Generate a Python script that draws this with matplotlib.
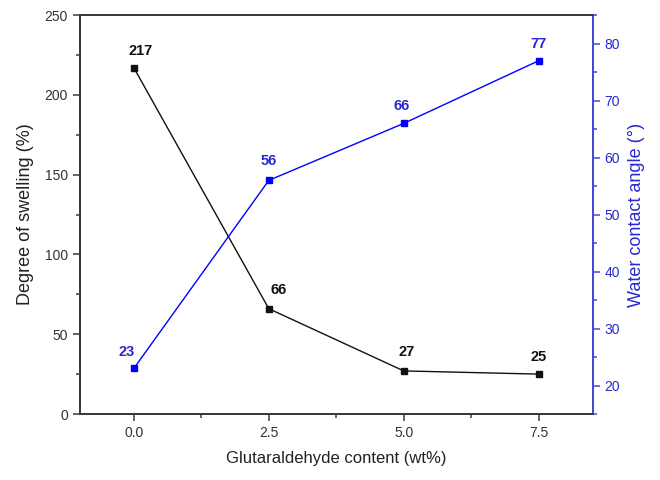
import matplotlib
matplotlib.use("Agg")
import matplotlib.pyplot as plt
from matplotlib.ticker import MultipleLocator

plt.rcParams['font.family'] = ['Liberation Sans', 'DejaVu Sans']

content = [0.0, 2.5, 5.0, 7.5]
swelling = [217, 66, 27, 25]
contact_angle = [23, 56, 66, 77]
x_ticks = [0.0, 2.5, 5.0, 7.5]
x_tick_labels = ["0.0", "2.5", "5.0", "7.5"]

# label offsets in pixels (dx, dy)
sw_offsets = [(7, 17), (10, 19), (3, 19), (0, 17)]
ca_offsets = [(-7, 16), (0, 19), (-2, 17), (0, 17)]

black = '#111111'
blue_line = '#0000ff'
blue_axis = '#4848e0'
blue_text = '#2828d0'
gray = '#3a3a3a'

fig = plt.figure(figsize=(6.6, 4.8), dpi=100)
ax = fig.add_axes([0.121, 0.1375, 0.777, 0.831])
ax2 = ax.twinx()

ax.plot(content, swelling, color=black, lw=1.0, marker='s', ms=5, zorder=3)
ax2.plot(content, contact_angle, color=blue_line, lw=1.0, marker='s', ms=5, zorder=3)

for x, y, (dx, dy) in zip(content, swelling, sw_offsets):
    ax.annotate(str(y), (x, y), xytext=(dx, dy), textcoords='offset pixels',
                ha='center', va='center', fontsize=10.5, fontweight='bold', color=black)
for x, y, (dx, dy) in zip(content, contact_angle, ca_offsets):
    ax2.annotate(str(y), (x, y), xytext=(dx, dy), textcoords='offset pixels',
                 ha='center', va='center', fontsize=10.5, fontweight='bold', color=blue_text)

ax.set_xlim(-1, 8.5)
ax.set_ylim(0, 250)
ax2.set_ylim(15, 85)

ax.set_xticks(x_ticks)
ax.set_xticklabels(x_tick_labels)
ax.xaxis.set_minor_locator(MultipleLocator(1.25))
ax.yaxis.set_major_locator(MultipleLocator(50))
ax.yaxis.set_minor_locator(MultipleLocator(25))
ax2.yaxis.set_major_locator(MultipleLocator(10))
ax2.yaxis.set_minor_locator(MultipleLocator(5))

for a in (ax, ax2):
    for s in a.spines.values():
        s.set_color(gray)
        s.set_linewidth(1.3)
ax2.spines['right'].set_color(blue_axis)

ax.tick_params(axis='both', which='major', direction='out', length=5, width=1.1,
               colors=gray, labelsize=10, labelcolor='#333333')
ax.tick_params(axis='both', which='minor', direction='out', length=3, width=1.1, colors=gray)
ax2.tick_params(axis='y', which='major', direction='out', length=5, width=1.1,
                colors=blue_axis, labelsize=10, labelcolor=blue_text)
ax2.tick_params(axis='y', which='minor', direction='out', length=3, width=1.1, colors=blue_axis)

ax.set_xlabel('Glutaraldehyde content (wt%)', fontsize=12, color='#222222', labelpad=8)
ax.set_ylabel('Degree of swelling (%)', fontsize=13, color='#222222', labelpad=8)
ax2.set_ylabel('Water contact angle (°)', fontsize=13, color=blue_text, labelpad=6)

fig.savefig('out.png', dpi=100)
